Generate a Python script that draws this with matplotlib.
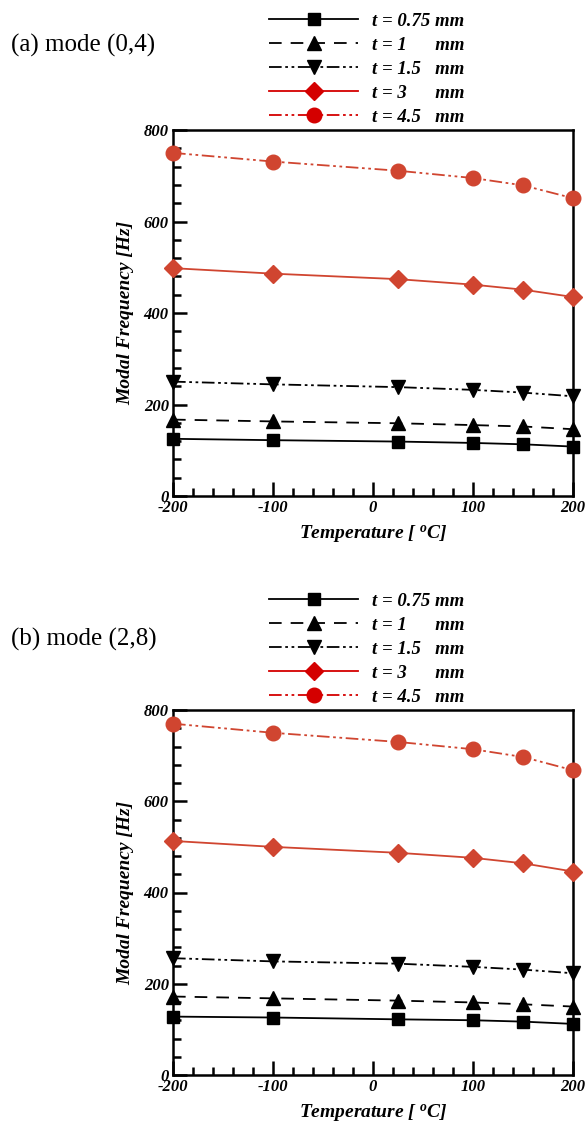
import numpy as np
import matplotlib
matplotlib.use("Agg")
import matplotlib.pyplot as plt
from matplotlib.ticker import MultipleLocator

plt.rcParams['font.family'] = 'Liberation Serif'
plt.rcParams['mathtext.fontset'] = 'custom'
plt.rcParams['mathtext.it'] = 'Liberation Serif:bold:italic'
plt.rcParams['mathtext.rm'] = 'Liberation Serif:bold:italic'
plt.rcParams['axes.unicode_minus'] = False

temps = [-200, -100, 25, 100, 150, 200]
thick_labels = ["t = 0.75 mm", "t = 1      mm", "t = 1.5   mm", "t = 3      mm", "t = 4.5   mm"]

# mode (0,4)
a_075 = [125, 122, 119, 116, 113, 108]
a_1 = [167, 163, 159, 155, 152, 146]
a_15 = [250, 244, 238, 232, 226, 218]
a_3 = [498, 486, 474, 462, 451, 435]
a_45 = [750, 731, 711, 695, 679, 651]

# mode (2,8)
b_075 = [128, 126, 122, 120, 117, 112]
b_1 = [172, 168, 163, 159, 155, 150]
b_15 = [256, 249, 244, 237, 231, 223]
b_3 = [513, 500, 487, 476, 464, 446]
b_45 = [770, 750, 730, 714, 697, 668]

dashdotdot = (0, (7, 2, 1.5, 2, 1.5, 2))
styles = [
    dict(color='black', ls='-', marker='s', ms=9),
    dict(color='black', ls=(0, (7, 5)), marker='^', ms=10),
    dict(color='black', ls=dashdotdot, marker='v', ms=10),
    dict(color='#d04530', ls='-', marker='D', ms=9),
    dict(color='#d04530', ls=dashdotdot, marker='o', ms=10.5),
]
legend_colors = ['black', 'black', 'black', '#d40000', '#d40000']

W, H = 586, 1122
fig = plt.figure(figsize=(W / 100, H / 100), dpi=100)


def panel(series, top_px, bottom_px, title, title_y):
    ax = fig.add_axes([173 / W, 1 - bottom_px / H, 400 / W, (bottom_px - top_px) / H])
    lines = []
    for vals, st, lab in zip(series, styles, thick_labels):
        ln, = ax.plot(temps, vals, color=st['color'], ls=st['ls'], lw=1.3,
                      marker=st['marker'], ms=st['ms'], mec=st['color'], mfc=st['color'],
                      label=lab, clip_on=False, zorder=3)
        lines.append(ln)
    ax.set_xlim(-200, 200)
    ax.set_ylim(0, 800)
    ax.xaxis.set_major_locator(MultipleLocator(100))
    ax.xaxis.set_minor_locator(MultipleLocator(20))
    ax.yaxis.set_major_locator(MultipleLocator(200))
    ax.yaxis.set_minor_locator(MultipleLocator(40))
    ax.tick_params(which='both', direction='in', top=False, right=False, width=1.8)
    ax.tick_params(which='major', length=10, labelsize=12, pad=3)
    ax.tick_params(which='minor', length=5.5)
    for lab in ax.get_xticklabels() + ax.get_yticklabels():
        lab.set_fontweight('bold')
        lab.set_fontstyle('italic')
    for sp in ax.spines.values():
        sp.set_linewidth(1.8)
    ax.set_xlabel("Temperature [ $^{o}$C]", fontsize=14, fontweight='bold', fontstyle='italic', labelpad=5)
    ax.set_ylabel("Modal Frequency [Hz]", fontsize=14, fontweight='bold', fontstyle='italic')
    ax.yaxis.set_label_coords(-0.097, 0.5)

    leg = ax.legend(handles=lines, loc='upper left', bbox_to_anchor=(260 / W, 1 - (top_px - 127) / H),
                    bbox_transform=fig.transFigure, frameon=False,
                    handlelength=4.75, handletextpad=0.75, labelspacing=0.37, borderpad=0,
                    prop=dict(weight='bold', style='italic', size=13.5))
    for h, c in zip(leg.legend_handles, legend_colors):
        h.set_color(c)
        h.set_markerfacecolor(c)
        h.set_markeredgecolor(c)
    fig.text(11 / W, 1 - title_y / H, title, fontsize=18, va='center', ha='left')
    return ax


panel([a_075, a_1, a_15, a_3, a_45], 130, 496, "(a) mode (0,4)", 45)
panel([b_075, b_1, b_15, b_3, b_45], 710, 1075, "(b) mode (2,8)", 639)

fig.savefig("out.png", dpi=100)
